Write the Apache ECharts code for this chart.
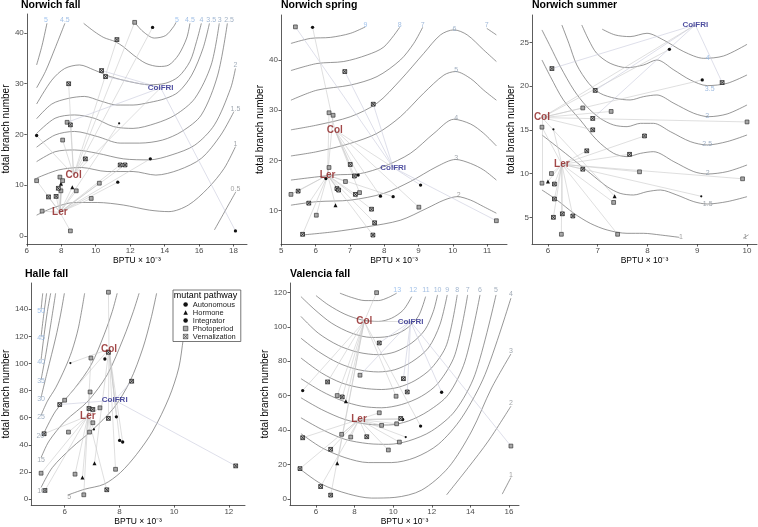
<!DOCTYPE html>
<html><head><meta charset="utf-8">
<script src="https://cdn.jsdelivr.net/npm/echarts@6/dist/echarts.min.js"></script>
<style>html,body{margin:0;padding:0;background:#fff}#c{width:758px;height:527px}</style>
</head><body><div id="c"></div>
<script>
// ---------------- DATA ----------------
const pathwayNames = ['Autonomous','Hormone','Integrator','Photoperiod','Vernalization'];
const pathwayCodes = {A:'Autonomous',H:'Hormone',I:'Integrator',P:'Photoperiod',V:'Vernalization'};

// Norwich fall
const nfCurves = [
 [[6.57,33.7],[6.89,37.6],[7.17,41.9]],
 [[6.57,29.2],[7.08,32.4],[7.64,37.0],[8.21,41.9]],
 [[12.26,42.1],[12.74,40.3],[13.4,39.0],[14.06,39.5],[14.53,41.3],[14.66,42.1]],
 [[9.30,41.9],[9.91,40.3],[10.47,39.1],[11.13,38.3],[11.60,37.3],[12.17,35.7],[12.92,34.0],[13.68,33.4],[14.25,33.7],[14.81,35.7],[15.28,39.0],[15.47,41.9]],
 [[6.57,26.0],[7.45,30.7],[8.2,33.0],[9.06,33.7],[9.91,32.7],[10.85,31.4],[11.98,30.4],[13.11,29.8],[14.06,30.1],[14.81,31.4],[15.47,34.4],[15.85,38.3],[16.13,41.9]],
 [[6.57,23.1],[7.45,26.0],[8.40,27.1],[9.34,27.5],[10.28,26.6],[11.23,25.8],[12.17,25.8],[13.11,26.3],[14.06,27.1],[14.81,28.4],[15.57,31.7],[16.23,37.0],[16.60,41.9]],
 [[6.57,20.2],[7.64,23.2],[8.77,23.85],[9.91,23.2],[11.04,21.55],[12.17,21.2],[13.49,22.2],[14.62,23.85],[15.75,27.1],[16.70,33.7],[17.17,41.9]],
 [[6.57,17.5],[7.64,19.9],[8.77,20.6],[10.09,19.6],[11.42,18.3],[12.55,18.3],[13.87,18.9],[15.0,20.6],[16.13,23.85],[17.08,31.7],[17.64,41.9]],
 [[6.57,14.65],[7.64,16.6],[8.77,16.95],[10.09,16.3],[11.60,15.2],[13.11,15.0],[14.43,16.0],[15.75,17.9],[16.89,21.9],[17.83,29.1],[18.11,33.0]],
 [[6.57,11.4],[7.83,13.0],[9.15,13.5],[10.66,12.7],[12.17,12.7],[13.49,12.0],[14.81,13.0],[16.13,15.3],[17.26,19.9],[18.02,24.5]],
 [[6.57,4.1],[7.45,5.45],[8.77,6.6],[10.09,6.6],[11.60,6.1],[13.11,5.1],[14.25,4.8],[15.38,6.1],[16.51,9.4],[17.45,13.3],[18.11,17.6]],
 [[16.89,1.2],[18.13,8.7]]
];
const nfLevels = [['5',7.11,42.5],['4.5',8.21,42.5],['5',14.72,42.5],['4.5',15.47,42.5],['4',16.13,42.5],['3.5',16.70,42.5],['3',17.2,42.5],['2.5',17.74,42.5],['2',18.11,33.6],['1.5',18.11,25.1],['1',18.11,18.2],['0.5',18.11,9.2]];
const nfGeno = [['Col',8.72,12.0],['Ler',7.92,4.66],['ColFRI',13.77,29.2]];
const nfPoints = [
 [12.26,42.1,'P','Col'],[13.3,41.1,'A','Col'],[11.23,38.7,'V','Col'],[10.34,32.6,'V','ColFRI'],[10.57,31.4,'V','ColFRI'],
 [8.43,30.0,'V','Col'],[8.34,22.4,'P','ColFRI'],[8.53,21.9,'V','Col'],[11.36,22.2,'I','Ler'],[6.57,19.8,'A','Col'],
 [8.08,18.9,'P','Col'],[9.4,15.2,'V','Col'],[13.17,15.2,'A','Ler'],[11.42,14.0,'V','Ler'],[11.7,14.0,'V','Ler'],
 [6.57,10.9,'P','Ler'],[7.92,11.6,'P','Ler'],[8.08,10.9,'P','Ler'],[7.98,10.3,'H','Ler'],[7.83,9.4,'V','Ler'],
 [7.98,8.9,'P','Ler'],[8.64,9.6,'H','Ler'],[8.87,8.9,'P','Ler'],[10.21,10.4,'P','Ler'],[11.28,10.6,'A','Ler'],
 [7.26,7.7,'V','Ler'],[7.7,7.8,'V','Ler'],[9.74,7.4,'P','Ler'],[6.89,4.9,'P','Ler'],[8.53,1.0,'P','Ler'],[18.11,1.0,'A','ColFRI']
];

// Norwich spring
const nsCurves = [
 [[5.28,43.3],[5.85,44.3],[6.43,44.5],[7.01,45.3],[7.45,46.6]],
 [[5.28,37.9],[6.04,39.3],[6.82,39.7],[7.5,41.0],[7.99,42.6],[8.45,46.5]],
 [[5.28,32.0],[6.04,34.0],[7.01,35.0],[7.79,36.7],[8.47,40.0],[8.86,43.3],[9.12,46.5]],
 [[5.28,26.1],[6.04,27.05],[7.01,28.7],[7.79,31.4],[8.47,36.0],[9.15,41.3],[9.64,45.0],[10.03,46.0],[10.42,45.0],[10.9,42.0],[11.27,39.7]],
 [[5.28,20.9],[6.04,21.75],[7.01,23.4],[7.79,25.4],[8.47,28.7],[9.15,33.4],[9.74,37.0],[10.08,37.7],[10.52,36.3],[10.9,34.0],[11.27,32.0]],
 [[5.28,16.1],[6.53,17.1],[7.31,17.4],[7.99,18.8],[8.76,21.4],[9.45,25.4],[10.03,28.2],[10.52,27.25],[10.9,25.4],[11.27,22.9]],
 [[5.28,11.1],[6.04,11.8],[7.01,12.1],[7.99,13.45],[8.76,15.8],[9.54,18.8],[10.08,20.2],[10.52,19.4],[10.9,18.1],[11.27,16.1]],
 [[5.60,5.16],[6.53,5.8],[7.5,6.8],[8.47,8.1],[9.25,10.5],[9.74,12.1],[10.13,12.8],[10.52,12.1],[10.9,10.8],[11.27,9.5]],
 [[10.99,46.3],[11.27,45.0]]
];
const nsLevels = [['9',7.45,47.0],['8',8.45,47.0],['7',9.12,47.0],['7',10.99,47.0],['6',10.05,46.2],['5',10.1,37.9],['4',10.1,28.4],['3',10.1,20.4],['2',10.17,13.1]];
const nsGeno = [['Col',6.56,26.1],['Ler',6.35,17.1],['ColFRI',8.26,18.6]];
const nsPoints = [
 [5.41,46.6,'P','ColFRI'],[5.91,46.5,'A','Col'],[6.85,37.7,'V','ColFRI'],[7.68,31.2,'V','ColFRI'],[6.39,29.5,'P','Ler'],
 [6.51,29.0,'P','Ler'],[7.01,19.2,'V','Col'],[6.39,18.6,'P','Ler'],[6.30,16.4,'A','Ler'],[7.13,16.9,'V','Col'],
 [7.24,17.1,'A','Col'],[6.87,15.8,'P','Ler'],[6.62,14.4,'V','Ler'],[6.67,14.1,'V','Ler'],[5.28,13.25,'P','Ler'],
 [5.49,13.9,'V','Ler'],[5.80,11.5,'V','Ler'],[6.58,11.1,'H','Ler'],[6.02,9.1,'P','Ler'],[7.16,13.25,'V','Ler'],
 [7.28,13.6,'P','Col'],[7.89,12.9,'A','Col'],[8.26,12.8,'A','Ler'],[9.06,15.1,'A','ColFRI'],[7.63,10.3,'V','Ler'],
 [7.72,7.6,'V','Ler'],[9.01,10.7,'P','Col'],[5.62,5.3,'V','Ler'],[7.67,5.15,'V','Ler'],[11.27,8.0,'P','ColFRI']
];

// Norwich summer
const nuCurves = [
 [[7.09,26.5],[7.35,25.84],[7.65,25.65],[7.99,26.03],[8.32,25.27],[8.73,23.93],[9.13,23.17],[9.53,23.44],[10.0,24.77]],
 [[6.68,26.98],[6.82,25.27],[6.98,23.74],[7.25,22.6],[7.59,22.1],[7.92,22.41],[8.19,22.98],[8.53,21.84],[8.86,20.7],[9.20,20.05],[9.60,20.31],[10.0,21.27]],
 [[6.28,26.98],[6.42,24.89],[6.58,22.41],[6.82,20.31],[7.05,19.17],[7.35,18.6],[7.65,18.41],[7.92,18.79],[8.19,18.98],[8.53,18.03],[8.93,16.89],[9.23,16.5],[9.60,16.81],[10.0,17.84]],
 [[5.88,26.41],[6.05,24.5],[6.25,22.22],[6.52,19.55],[6.78,17.65],[7.05,16.31],[7.32,15.55],[7.59,15.36],[7.86,15.74],[8.12,15.74],[8.46,14.79],[8.86,13.65],[9.20,13.27],[9.60,13.65],[10.0,14.41]],
 [[5.88,22.98],[6.05,21.08],[6.31,18.41],[6.65,16.12],[6.98,13.84],[7.32,12.31],[7.59,11.93],[7.86,12.31],[8.12,12.5],[8.53,11.36],[8.93,10.22],[9.20,9.95],[9.60,10.22],[10.0,10.98]],
 [[5.88,14.41],[6.18,13.08],[6.52,11.55],[6.85,10.03],[7.19,8.5],[7.45,7.74],[7.72,7.55],[7.99,7.93],[8.26,8.12],[8.59,7.55],[8.93,6.79],[9.20,6.52],[9.60,6.79],[10.0,7.36]],
 [[5.88,8.12],[6.18,6.98],[6.52,5.46],[6.85,4.31],[7.19,3.55],[7.59,3.17],[7.92,3.17],[8.26,2.98],[8.64,2.71]],
 [[9.92,2.6],[10.03,3.0]]
];
const nuLevels = [['4',9.21,23.2],['3.5',9.25,19.7],['3',9.2,16.6],['2.5',9.2,13.4],['2',9.21,10.0],['1.5',9.21,6.5],['1',8.67,2.7],['1',9.97,2.7]];
const nuGeno = [['Col',5.88,16.4],['Ler',6.28,11.06],['ColFRI',8.96,27.0]];
const nuPoints = [
 [8.44,24.2,'A','Col'],[6.08,22.0,'V','ColFRI'],[9.1,20.7,'A','Col'],[9.5,20.4,'V','ColFRI'],[6.95,19.5,'V','ColFRI'],
 [6.70,17.5,'P','Col'],[7.27,17.1,'P','Col'],[6.9,16.3,'V','ColFRI'],[6.9,15.0,'V','Col'],[10.0,15.9,'P','Col'],
 [5.88,15.3,'P','Ler'],[6.11,15.06,'I','Ler'],[6.78,12.6,'V','Ler'],[7.94,14.3,'V','Ler'],[7.64,12.2,'V','Ler'],
 [6.07,10.0,'P','Ler'],[6.70,10.5,'V','Ler'],[7.84,10.2,'P','Ler'],[5.88,8.9,'P','Col'],[6.0,9.1,'H','Ler'],
 [6.13,8.8,'V','Ler'],[9.91,9.4,'P','Ler'],[6.13,7.1,'V','Ler'],[7.34,7.4,'H','Col'],[7.32,6.7,'P','Ler'],
 [9.08,7.4,'I','Ler'],[6.11,5.0,'V','Ler'],[6.29,5.4,'V','Ler'],[6.5,5.15,'V','Ler'],[6.27,3.06,'P','Ler'],[7.4,3.06,'P','Ler']
];

// Halle fall
const hfCurves = [
 [[5.14,140.0],[5.17,146.0],[5.2,151.7]],
 [[5.14,119.9],[5.22,133.4],[5.34,151.7]],
 [[5.14,102.8],[5.25,121.1],[5.37,138.3],[5.49,151.7]],
 [[5.14,88.1],[5.31,106.5],[5.49,128.5],[5.67,151.7]],
 [[5.14,75.1],[5.37,94.2],[5.67,118.7],[5.85,135.8],[5.99,151.7]],
 [[5.14,61.9],[5.37,72.2],[5.67,82.0],[6.02,96.7],[6.26,108.9],[6.50,126.0],[6.73,151.7]],
 [[5.22,47.7],[5.67,64.9],[6.38,82.0],[6.97,99.1],[7.44,121.1],[7.74,138.3],[7.92,151.7]],
 [[5.14,30.6],[5.43,42.8],[6.02,57.5],[6.85,72.2],[7.56,91.8],[8.15,118.7],[8.51,138.3],[8.72,151.7]],
 [[5.14,8.6],[5.55,23.25],[6.26,37.9],[6.97,50.2],[7.80,67.3],[8.39,86.9],[8.86,111.4],[9.16,133.4],[9.36,151.7]],
 [[6.14,3.2],[6.73,7.3],[7.44,11.0],[8.04,19.6],[8.63,33.0],[9.22,50.2],[9.81,74.6],[10.17,96.7],[10.34,118.7],[10.52,140.7]]
];
const hfLevels = [['50',5.14,138.3],['45',5.14,118.7],['40',5.14,101.1],['35',5.14,86.9],['30',5.14,73.9],['25',5.14,60.7],['20',5.11,46.3],['15',5.14,28.6],['10',5.14,6.1],['5',6.17,1.2]];
const hfGeno = [['Col',7.62,110.6],['Ler',6.85,61.4],['ColFRI',7.83,72.9]];
const hfPoints = [
 [7.6,152.5,'P','Col'],[7.6,108.2,'V','Col'],[7.47,103.3,'A','Col'],[6.21,100.3,'I','Col'],[6.96,104.0,'P','Ler'],
 [6.93,79.0,'P','Ler'],[8.45,86.9,'V','ColFRI'],[6.0,72.9,'P','Col'],[5.82,69.7,'V','ColFRI'],[6.89,66.8,'V','Ler'],
 [7.03,66.1,'V','Ler'],[7.29,67.3,'P','Ler'],[7.6,59.5,'V','Col'],[7.89,60.7,'A','Col'],[7.03,56.3,'P','Ler'],
 [7.07,51.4,'I','Ler'],[6.91,49.4,'P','Ler'],[6.14,49.4,'P','Ler'],[5.25,48.2,'V','Ler'],[8.01,43.3,'A','Col'],
 [8.12,42.1,'A','Col'],[7.09,26.4,'H','Col'],[6.65,15.9,'H','Ler'],[7.86,22.0,'P','Col'],[5.14,19.1,'P','Ler'],
 [6.38,18.4,'P','Ler'],[5.28,6.4,'V','Ler'],[6.7,3.2,'P','Ler'],[7.54,6.9,'V','Ler'],[12.25,24.5,'V','ColFRI']
];

// Valencia fall
const vfCurves = [
 [[7.24,119.5],[7.85,117.0],[8.54,115.2],[9.23,115.2],[9.75,117.0],[10.18,119.5]],
 [[6.0,118.1],[6.64,112.7],[7.5,107.3],[8.37,104.0],[9.23,103.1],[9.92,105.0],[10.53,109.8],[10.96,117.5]],
 [[5.22,117.5],[5.95,109.8],[6.81,102.1],[7.85,96.3],[8.88,93.8],[9.75,94.4],[10.61,98.3],[11.3,106.0],[11.68,117.5]],
 [[5.22,106.0],[6.12,96.3],[7.16,89.2],[8.19,85.2],[9.23,83.8],[10.09,85.4],[10.96,90.6],[11.65,98.3],[12.08,108.9],[12.3,118.5]],
 [[5.22,93.4],[6.12,85.7],[7.16,79.0],[8.19,75.1],[9.23,73.8],[10.09,75.1],[10.96,79.6],[11.82,87.7],[12.42,101.2],[12.8,118.5]],
 [[5.22,81.9],[6.29,73.2],[7.33,67.4],[8.37,64.5],[9.4,63.6],[10.27,64.9],[11.13,68.8],[11.99,76.1],[12.77,89.6],[13.32,118.5]],
 [[5.22,69.9],[6.29,62.6],[7.33,57.2],[8.37,53.9],[9.4,53.0],[10.44,54.9],[11.47,59.7],[12.34,67.4],[13.2,83.8],[13.86,118.5]],
 [[5.22,58.8],[6.29,52.0],[7.5,46.2],[8.71,43.4],[9.75,43.0],[10.78,45.3],[11.82,51.1],[12.86,60.7],[13.72,80.0],[14.5,118.5]],
 [[5.22,47.2],[6.29,40.5],[7.5,34.7],[8.71,32.2],[9.75,31.8],[10.78,33.7],[11.99,39.5],[13.2,51.1],[14.24,72.3],[15.33,118.5]],
 [[5.22,38.0],[6.29,29.9],[7.5,24.1],[8.71,21.2],[9.92,21.2],[11.13,24.1],[12.34,31.8],[13.55,47.2],[14.76,72.3],[16.1,116.6]],
 [[5.08,18.3],[6.29,8.7],[7.68,3.0],[8.88,0.6],[10.09,1.0],[11.47,5.2],[12.86,18.3],[14.07,39.5],[15.1,64.5],[16.1,84.2]],
 [[12.77,2.5],[13.89,18.3],[14.93,33.7],[16.1,53.9]],
 [[15.65,2.9],[16.1,12.5]]
];
const vfLevels = [['13',10.21,121.5],['12',11.04,121.5],['11',11.7,121.5],['10',12.3,121.5],['9',12.8,121.5],['8',13.32,121.5],['7',13.86,121.5],['6',14.5,121.5],['5',15.33,121.5],['4',16.1,118.8],['3',16.1,86.0],['2',16.1,56.0],['1',16.1,14.2]];
const vfGeno = [['Col',8.5,103.1],['Ler',8.23,46.2],['ColFRI',10.9,103.1]];
const vfPoints = [
 [9.14,119.8,'P','Col'],[9.28,90.6,'V','ColFRI'],[8.28,71.9,'P','ColFRI'],[6.6,68.0,'V','Col'],[5.31,63.0,'A','Col'],
 [10.53,69.9,'V','ColFRI'],[7.1,60.1,'P','Col'],[7.36,59.3,'V','Col'],[7.55,56.8,'H','Col'],[10.15,59.7,'P','Col'],
 [10.73,62.2,'V','ColFRI'],[12.51,62.0,'A','ColFRI'],[9.28,50.1,'P','Ler'],[10.39,46.8,'V','Ler'],[10.49,46.2,'A','Ler'],
 [9.4,42.8,'P','Ler'],[10.18,43.7,'P','Ler'],[11.42,42.4,'A','Col'],[5.31,35.6,'V','Ler'],[7.33,37.6,'P','Ler'],
 [7.8,36.0,'P','Ler'],[8.63,36.2,'V','Ler'],[10.65,36.0,'I','Ler'],[10.32,33.1,'P','Ler'],[9.75,28.5,'P','Ler'],
 [6.76,28.9,'V','Ler'],[7.1,20.8,'H','Col'],[5.17,17.7,'V','Ler'],[6.24,7.3,'V','Ler'],[6.76,2.3,'V','Col'],[16.1,30.8,'P','ColFRI']
];

const xTicks = [[6,8,10,12,14,16,18],[5,6,7,8,9,10,11],[6,7,8,9,10],[6,8,10,12],[6,8,10,12,14,16]];
const yTicks = [[0,10,20,30,40],[10,20,30,40],[5,10,15,20,25],[0,20,40,60,80,100,120,140],[0,20,40,60,80,100,120]];
const panelTitles = ['Norwich fall','Norwich spring','Norwich summer','Halle fall','Valencia fall'];

// ---------------- LAYOUT ----------------
const layout = [
 {left:21, top:14, width:226, height:230, xmin:6.0, xmax:18.78, ymin:-1.58, ymax:43.74, yGap:10, tTop:0},
 {left:281, top:15, width:226, height:229, xmin:4.99, xmax:11.58, ymin:3.37, ymax:48.96, yGap:10.5, tTop:0},
 {left:532, top:15, width:225, height:229, xmin:5.68, xmax:10.2, ymin:1.95, ymax:28.12, yGap:11.5, tTop:0},
 {left:25, top:283, width:220, height:223, xmin:4.78, xmax:12.59, ymin:-4.4, ymax:159.3, yGap:16, tTop:269},
 {left:290, top:283, width:229, height:223, xmin:4.653, xmax:16.52, ymin:-3.47, ymax:125.4, yGap:17, tTop:269}
];
const panelData = [
 [nfCurves,nfLevels,nfGeno,nfPoints],[nsCurves,nsLevels,nsGeno,nsPoints],[nuCurves,nuLevels,nuGeno,nuPoints],
 [hfCurves,hfLevels,hfGeno,hfPoints],[vfCurves,vfLevels,vfGeno,vfPoints]
];

const FONT = 'Liberation Sans, Arial, Helvetica, sans-serif';
const VPATH = 'path://M0,0H10V10H0Z M0,0L10,10 M10,0L0,10';
const symStyle = {
 Autonomous:{symbol:'circle',size:3.3,color:'#111',border:'#111',bw:0},
 Hormone:{symbol:'triangle',size:4,color:'#111',border:'#111',bw:0},
 Integrator:{symbol:'circle',size:2.2,color:'#111',border:'#111',bw:0},
 Photoperiod:{symbol:'rect',size:3.8,color:'#a8a8a8',border:'#3a3a3a',bw:0.7},
 Vernalization:{symbol:VPATH,size:3.8,color:'#d0d0d0',border:'#1a1a1a',bw:0.75}
};
const genoColor = {Col:'#8b1a1a', Ler:'#8b1a1a', ColFRI:'#1f1f86'};

function mix(a,b,t){
 const pa=[parseInt(a.slice(1,3),16),parseInt(a.slice(3,5),16),parseInt(a.slice(5,7),16)];
 const pb=[parseInt(b.slice(1,3),16),parseInt(b.slice(3,5),16),parseInt(b.slice(5,7),16)];
 return 'rgb('+pa.map((v,i)=>Math.round(v+(pb[i]-v)*t)).join(',')+')';
}

const grid=[], xAxis=[], yAxis=[], title=[], series=[];
layout.forEach((L,i)=>{
 grid.push({left:L.left, top:L.top, width:L.width, height:L.height, containLabel:false});
 title.push({text:panelTitles[i], left:L.left, top:L.tTop, padding:0,
   textStyle:{fontSize:10.5, fontWeight:'bold', color:'#000', fontFamily:FONT}});
 xAxis.push({gridIndex:i, type:'value', min:L.xmin, max:L.xmax,
   axisLine:{show:true, onZero:false, lineStyle:{color:'#333', width:0.8}},
   axisTick:{show:true, length:2.5, lineStyle:{color:'#333', width:0.8}, customValues:xTicks[i]},
   axisLabel:{customValues:xTicks[i], fontSize:8, color:'#4d4d4d', margin:3, fontFamily:FONT},
   splitLine:{show:false},
   name:'BPTU × 10⁻³', nameLocation:'middle', nameGap:11,
   nameTextStyle:{fontSize:8.5, color:'#000', fontFamily:FONT}});
 yAxis.push({gridIndex:i, type:'value', min:L.ymin, max:L.ymax,
   axisLine:{show:true, onZero:false, lineStyle:{color:'#333', width:0.8}},
   axisTick:{show:true, length:2.5, lineStyle:{color:'#333', width:0.8}, customValues:yTicks[i]},
   axisLabel:{customValues:yTicks[i], fontSize:8, color:'#4d4d4d', margin:3, fontFamily:FONT},
   splitLine:{show:false},
   name:'total branch number', nameLocation:'middle', nameGap:L.yGap,
   nameTextStyle:{fontSize:10, color:'#000', fontFamily:FONT}});

 const [curves, levels, geno, pts] = panelData[i];
 curves.forEach(c=>{
   series.push({type:'line', xAxisIndex:i, yAxisIndex:i, data:c, showSymbol:false, symbol:'none',
     smooth:0.3, lineStyle:{color:'#6a6a6a', width:0.7}, z:1, silent:true});
 });
 const gpos = {}; geno.forEach(g=>{gpos[g[0]]=[g[1],g[2]];});
 const conn = pts.map(p=>({coords:[gpos[p[3]],[p[0],p[1]]],
   lineStyle:{color:p[3]==='ColFRI'?'#c8cadc':'#cacaca'}}));
 conn.push({coords:[gpos.Col,gpos.ColFRI], lineStyle:{color:'#cacaca'}});
 series.push({type:'lines', coordinateSystem:'cartesian2d', xAxisIndex:i, yAxisIndex:i, data:conn,
   lineStyle:{width:0.6, opacity:1}, z:2, silent:true});
 pathwayNames.forEach(nm=>{
   const s = symStyle[nm];
   series.push({type:'scatter', name:nm, xAxisIndex:i, yAxisIndex:i,
     data: pts.filter(p=>pathwayCodes[p[2]]===nm).map(p=>[p[0],p[1]]),
     symbol:s.symbol, symbolSize:s.size,
     itemStyle:{color:s.color, borderColor:s.border, borderWidth:s.bw, opacity:1}, z:3, silent:true});
 });
 const lv = levels.map(l=>parseFloat(l[0]));
 const lmin = Math.min(...lv), lmax = Math.max(...lv);
 series.push({type:'scatter', xAxisIndex:i, yAxisIndex:i, symbolSize:1, itemStyle:{color:'rgba(0,0,0,0)'},
   data: levels.map(l=>({value:[l[1],l[2]], label:{formatter:l[0],
      color: mix('#8a8a8a','#8ab4ea', (parseFloat(l[0])-lmin)/(lmax-lmin||1))}})),
   label:{show:true, position:'inside', fontSize:7, fontFamily:FONT}, z:4, silent:true});
 series.push({type:'scatter', xAxisIndex:i, yAxisIndex:i, symbolSize:1, itemStyle:{color:'rgba(0,0,0,0)'},
   data: geno.map(g=>({value:[g[1],g[2]], label:{formatter:g[0], color:genoColor[g[0]],
      fontSize: g[0]==='ColFRI'?8:10}})),
   label:{show:true, position:'inside', fontWeight:'bold', fontFamily:FONT}, z:5, silent:true});
});

const legendData = pathwayNames.map(nm=>{
 const s = symStyle[nm];
 return {name:nm, icon:s.symbol, itemStyle:{color:s.color, borderColor:s.border, borderWidth:nm==='Vernalization'?0.5:s.bw}};
});

const chart = echarts.init(document.getElementById('c'), null, {renderer:'canvas'});
chart.setOption({
 animation:false, backgroundColor:'#fff',
 textStyle:{fontFamily:FONT},
 title, grid, xAxis, yAxis, series,
 legend:{data:legendData, left:173, top:290, orient:'vertical', padding:[10.5,5,1,10], itemGap:0,
   itemWidth:4.5, itemHeight:4.5, backgroundColor:'#fff', borderColor:'#555', borderWidth:0.8,
   selectedMode:false, textStyle:{fontSize:7.5, lineHeight:7.9, color:'#222', fontFamily:FONT}, z:10},
 graphic:[{type:'text', z:100, style:{text:'mutant pathway', x:205.5, y:295.5, textAlign:'center',
   textVerticalAlign:'middle', fontSize:9, fill:'#000', fontFamily:FONT}}]
});
</script></body></html>
